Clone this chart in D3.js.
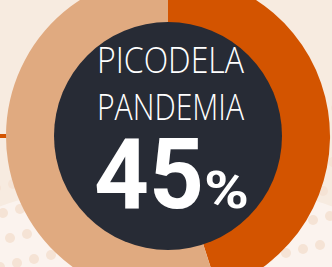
<!DOCTYPE html>
<html><head><meta charset="utf-8">
<script src="https://cdn.jsdelivr.net/npm/d3@7/dist/d3.min.js"></script>
<style>html,body{margin:0;padding:0;background:#f7ebe0;}svg{display:block}</style>
</head><body>
<script>
const categories = ["Pico", "Resto"];
const values = [45, 55];
const titleLines = ["PICODELA", "PANDEMIA"];
const valueLabel = "45";
const unitLabel = "%";

const W = 332, H = 267;
const colors = d3.scaleOrdinal().domain(categories).range(["#d35400", "#e0aa80"]);
const svg = d3.select("body").append("svg").attr("width", W).attr("height", H);

svg.append("rect").attr("width", W).attr("height", H).attr("fill", "#f7ebe0");
// lighter lower area
svg.append("ellipse").attr("cx", 166).attr("cy", 305).attr("rx", 270).attr("ry", 125).attr("fill", "#fbf3ee");
// dot pattern
const dots = svg.append("g").attr("fill", "#f5e3d5");
for (let r = 0; r < 6; r++) {
  for (let c = -2; c < 22; c++) {
    const x = c * 17 + r * 7 - 4;
    const y = 188 + r * 25 - c * 4;
    dots.append("circle").attr("cx", x).attr("cy", y).attr("r", 5);
  }
}
// orange accent line
svg.append("rect").attr("x", 0).attr("y", 134).attr("width", 60).attr("height", 4).attr("fill", "#d35400");

const cx = 168, cy = 136;
const g = svg.append("g").attr("transform", `translate(${cx},${cy})`);
const pie = d3.pie().sort(null).value(d => d);
const arc = d3.arc().innerRadius(110).outerRadius(162);
g.selectAll("path").data(pie(values)).join("path")
  .attr("d", arc).attr("fill", (d, i) => colors(categories[i]));
g.append("circle").attr("r", 114).attr("fill", "#272b35");

const t = svg.append("g").attr("fill", "#ffffff");
const lineY = [73, 120];
titleLines.forEach((s, i) => {
  t.append("text").attr("x", 97).attr("y", lineY[i])
    .attr("font-family", "'Open Sans', sans-serif").attr("font-weight", 300)
    .attr("font-size", 36).attr("textLength", 147).attr("lengthAdjust", "spacingAndGlyphs")
    .text(s);
});
t.append("text").attr("x", 94).attr("y", 208)
  .attr("font-family", "Roboto, sans-serif").attr("font-weight", 700)
  .attr("font-size", 98).attr("textLength", 110).attr("lengthAdjust", "spacingAndGlyphs")
  .text(valueLabel);
t.append("text").attr("x", 204).attr("y", 208)
  .attr("font-family", "Roboto, sans-serif").attr("font-weight", 700)
  .attr("font-size", 52).attr("textLength", 45).attr("lengthAdjust", "spacingAndGlyphs")
  .text(unitLabel);
</script>
</body></html>
